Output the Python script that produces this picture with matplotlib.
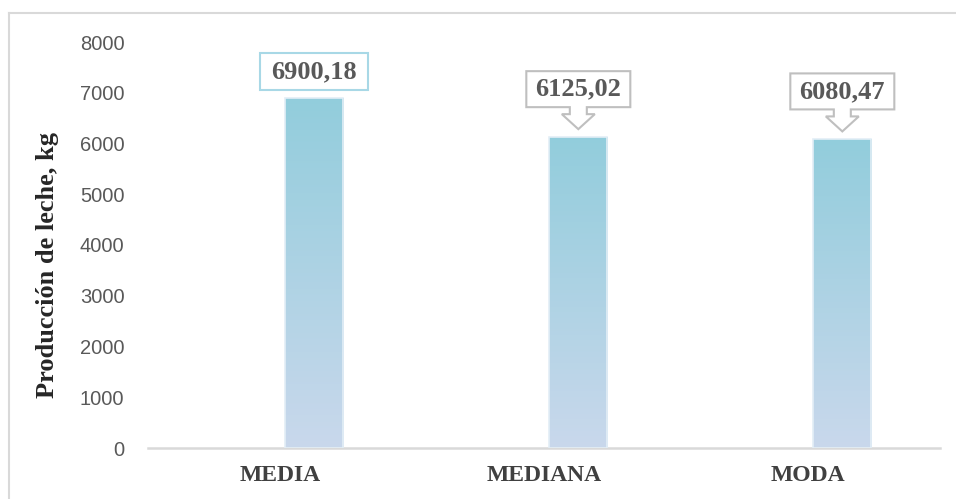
import numpy as np
import matplotlib.pyplot as plt
from matplotlib.patches import Polygon, Rectangle
from matplotlib.lines import Line2D
from matplotlib.colors import LinearSegmentedColormap

categorias = ['MEDIA', 'MEDIANA', 'MODA']
produccion = [6900.18, 6125.02, 6080.47]
etiquetas = ['6900,18', '6125,02', '6080,47']
yticks = [0, 1000, 2000, 3000, 4000, 5000, 6000, 7000, 8000]

fig = plt.figure(figsize=(9.56, 4.99), dpi=100)
ax = fig.add_axes([148/956, (499-448)/499, (940-148)/956, (448-42)/499])

x = np.arange(len(categorias))
desp = 0.13
ancho = 0.22

# degradado para las barras
cmap = LinearSegmentedColormap.from_list('grad', ['#C9D8EC', '#92CDDC'])
grad = np.linspace(0, 1, 256).reshape(-1, 1)
barras = ax.bar(x + desp, produccion, width=ancho, color='none',
                edgecolor='#E3EEF6', linewidth=1.2, zorder=3)
for b in barras:
    x0, w, h = b.get_x(), b.get_width(), b.get_height()
    im = ax.imshow(grad, cmap=cmap, origin='lower', aspect='auto',
                   extent=[x0, x0 + w, 0, h], zorder=2)
    im.set_clip_path(b)
ax.set_xlim(-0.5, len(categorias) - 0.5)
ax.set_ylim(0, 8000)

ax.set_xticks(x)
ax.set_xticklabels(categorias, fontfamily='Liberation Serif', fontweight='bold',
                   fontsize=17, color='#404040')
ax.set_yticks(yticks)
ax.set_yticklabels([str(v) for v in yticks], fontfamily='Liberation Sans',
                   fontsize=14.5, color='#595959')
ax.tick_params(axis='x', length=0, pad=12)
ax.tick_params(axis='y', length=0, pad=17)
for s in ['top', 'right', 'left']:
    ax.spines[s].set_visible(False)
ax.spines['bottom'].set_color('#D9D9D9')
ax.spines['bottom'].set_linewidth(1.8)

ax.set_ylabel('Producción de leche, kg', fontfamily='Liberation Serif',
              fontweight='bold', fontsize=19, color='#262626')
ax.yaxis.set_label_coords(-0.113, 0.45)

# etiquetas de datos (en pixeles respecto a la parte superior de la barra)
for i, (v, t) in enumerate(zip(produccion, etiquetas)):
    px, py = ax.transData.transform((x[i] + desp, v))
    if i == 0:
        bw, b0, b1 = 108, 8, 45
        caja = Rectangle((px - bw/2, py + b0), bw, b1 - b0, transform=None,
                         facecolor='white', edgecolor='#A8D8E6', linewidth=1.5,
                         zorder=5)
        fig.add_artist(caja)
        ty = py + (b0 + b1) / 2
    else:
        bw, tip, hb, b0, b1 = 104, 8, 23, 30, 66
        hw, nw = 16.5, 8.5
        pts = [(px, py + tip), (px + hw, py + hb), (px + nw, py + hb),
               (px + nw, py + b0), (px + bw/2, py + b0), (px + bw/2, py + b1),
               (px - bw/2, py + b1), (px - bw/2, py + b0), (px - nw, py + b0),
               (px - nw, py + hb), (px - hw, py + hb)]
        fig.add_artist(Polygon(pts, closed=True, transform=None, facecolor='white',
                               edgecolor='#BFBFBF', linewidth=1.5, zorder=5))
        ty = py + (b0 + b1) / 2
    fig.text(px / 956, ty / 499, t, ha='center', va='center',
             fontfamily='Liberation Serif', fontweight='bold', fontsize=19,
             color='#595959', zorder=6)

# borde del grafico
fig.add_artist(Line2D([9/956, 9/956], [0, 1 - 13/499], color='#D9D9D9', linewidth=1.5))
fig.add_artist(Line2D([9/956, 1], [1 - 13/499, 1 - 13/499], color='#D9D9D9', linewidth=1.5))

fig.savefig('out.png', dpi=100)
